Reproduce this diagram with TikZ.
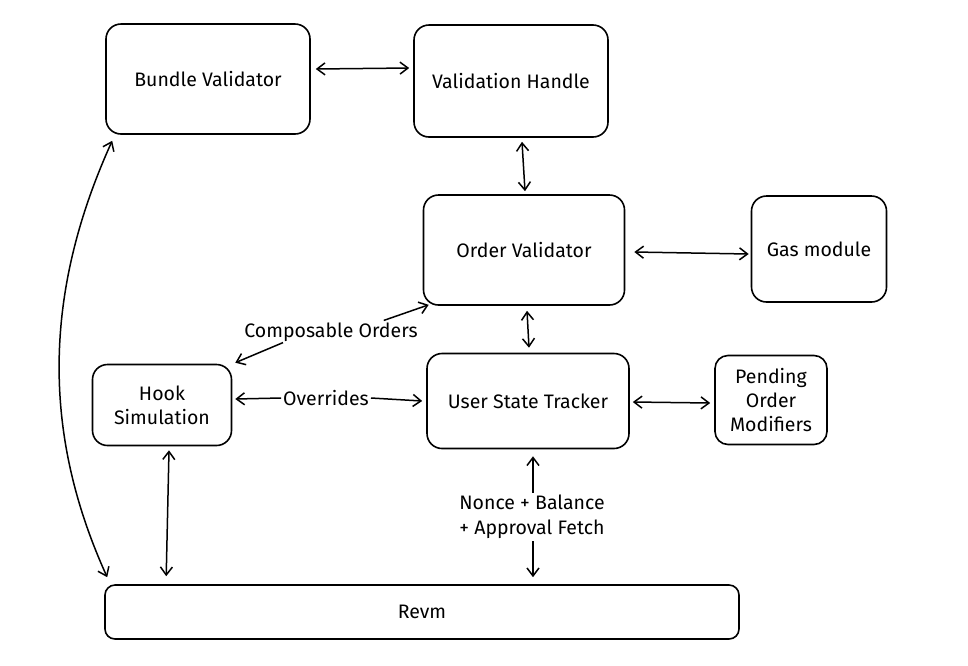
\documentclass[tikz,border=0pt]{standalone}
\usepackage{fontspec}
\setmainfont{Fira Sans}
\usetikzlibrary{arrows.meta,calc}
\begin{document}
\begin{tikzpicture}[x=1pt,y=-1pt,
  box/.style={draw, line width=1.6pt, rounded corners=15pt, align=center, inner sep=2pt,
    font=\fontsize{19.5}{24}\selectfont},
  lbl/.style={align=center, inner sep=2pt, font=\fontsize{19.5}{25}\selectfont},
  arr/.style={line width=1.5pt, {Straight Barb[length=8pt,width=12pt]}-{Straight Barb[length=8pt,width=12pt]}},
  one/.style={line width=1.5pt, -{Straight Barb[length=8pt,width=12pt]}}]
\useasboundingbox (0,0) rectangle (968,665);
\node[box, minimum width=204pt, minimum height=110pt] (bv) at (208,79) {Bundle Validator};
\node[box, minimum width=194pt, minimum height=112pt] (vh) at (511,81) {Validation Handle};
\node[box, minimum width=201pt, minimum height=110pt] (ov) at (524,250) {Order Validator};
\node[box, minimum width=135pt, minimum height=106pt] (gas) at (819,249) {Gas module};
\node[box, minimum width=139pt, minimum height=81pt] (hook) at (162,405) {Hook\\Simulation};
\node[box, minimum width=202pt, minimum height=95pt] (ust) at (528,401) {User State Tracker};
\node[box, minimum width=112pt, minimum height=89pt, rounded corners=13pt] (pom) at (771,400) {Pending\\Order\\Modifiers};
\node[box, minimum width=634pt, minimum height=54pt, rounded corners=10pt] (revm) at (422,612) {Revm};

\draw[arr] ([shift={(5,-10)}]bv.east) -- ([shift={(-4,-13)}]vh.west);
\draw[arr] ([shift={(11,4)}]vh.south) -- ([shift={(1,-3)}]ov.north);
\draw[arr] ([shift={(9,2)}]ov.east) -- ([shift={(-2,5)}]gas.west);
\draw[arr] ([shift={(3,5)}]ov.south) -- ([shift={(1,-5)}]ust.north);
\draw[arr] ([shift={(3,1)}]ust.east) -- ([shift={(-4,3)}]pom.west);

\node[lbl, fill=white] (ovr) at (326,398) {Overrides};
\draw[one] (ovr.west) -- ([shift={(3,-6)}]hook.east);
\draw[one] (ovr.east) -- ([shift={(-4,0)}]ust.west);

\node[lbl] (co) at (331,332) {Composable Orders};
\draw[one] ([shift={(-36,0)}]co.north east) -- ([shift={(6,-1)}]ov.south west);
\draw[one] ([shift={(-48,-1)}]co.south) -- ([shift={(3,-1)}]hook.north east);

\node[lbl] (nb) at (532,517) {Nonce + Balance\\+ Approval Fetch};
\draw[one] ([xshift=1pt]nb.north) -- ([shift={(5,7)}]ust.south);
\draw[one] ([xshift=1pt]nb.south) -- ([shift={(111,-7)}]revm.north);

\draw[arr] ([shift={(7,6)}]bv.south west) .. controls (40,300) and (45,440) .. ([shift={(3,-7)}]revm.north west);
\draw[arr] ([shift={(7,4)}]hook.south) -- ([shift={(62,-8)}]revm.north west);
\end{tikzpicture}
\end{document}
